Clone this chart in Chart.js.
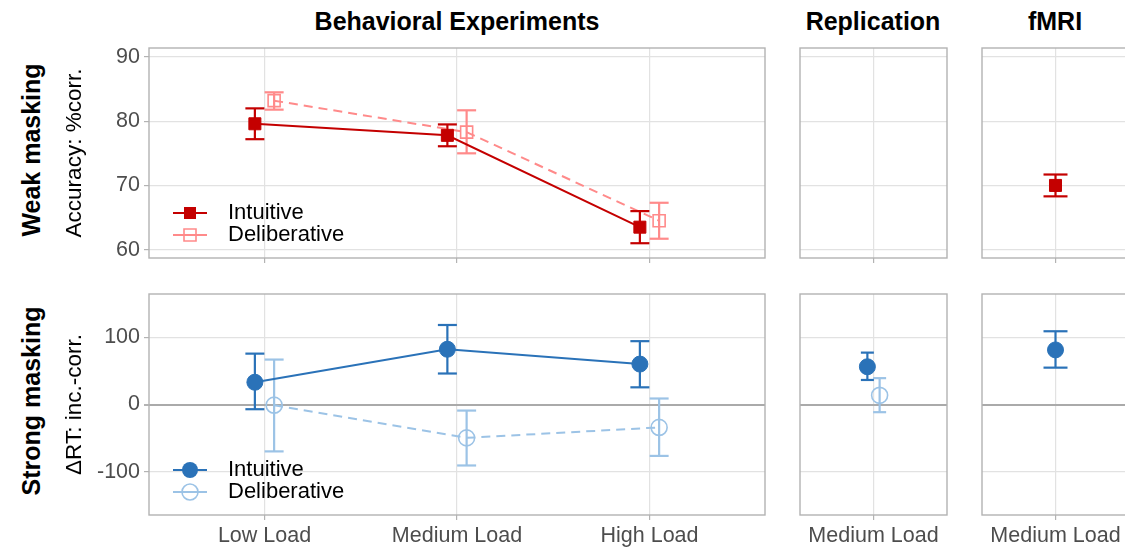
<!DOCTYPE html>
<html>
<head>
<meta charset="utf-8">
<script src="https://cdn.jsdelivr.net/npm/chart.js@4.4.1/dist/chart.umd.min.js"></script>
<style>
  html, body { margin: 0; padding: 0; background: #fff; overflow: hidden; }
  body { width: 1125px; height: 550px; position: relative; font-family: "Liberation Sans", Arial, Helvetica, sans-serif; }
  canvas { position: absolute; }
  .col-title { position: absolute; top: 7px; font-weight: bold; font-size: 25px; transform: translateX(-50%); white-space: nowrap; color: #000; }
  .row-title { position: absolute; font-weight: bold; font-size: 25px; transform: translate(-50%, -50%) rotate(-90deg); white-space: nowrap; color: #000; }
</style>
</head>
<body>
<div class="col-title" style="left:457px">Behavioral Experiments</div>
<div class="col-title" style="left:873px">Replication</div>
<div class="col-title" style="left:1055px">fMRI</div>
<div class="row-title" style="left:31px;top:150px">Weak masking</div>
<div class="row-title" style="left:31px;top:401px">Strong masking</div>

<canvas id="weak-beh" width="770" height="240" style="left:0;top:40px"></canvas>
<canvas id="weak-rep" width="157" height="240" style="left:795px;top:40px"></canvas>
<canvas id="weak-fmri" width="157" height="240" style="left:977px;top:40px"></canvas>
<canvas id="strong-beh" width="770" height="264" style="left:0;top:286px"></canvas>
<canvas id="strong-rep" width="157" height="264" style="left:795px;top:286px"></canvas>
<canvas id="strong-fmri" width="157" height="264" style="left:977px;top:286px"></canvas>

<script>
// ---- categories / ticks ----
const loadLabels = ['Low Load', 'Medium Load', 'High Load'];
const singleLabels = ['Medium Load'];
const accTicks = [60, 70, 80, 90];
const rtTicks = [-100, 0, 100];
const accRange = [58.7, 91.4];
const rtRange = [-164, 164];

// ---- weak masking: accuracy, % correct (mean, lower, upper) ----
const weakIntMean = [79.6, 77.8, 63.5];
const weakIntLow  = [77.2, 76.1, 61.0];
const weakIntHigh = [82.0, 79.5, 66.0];
const weakDelMean = [83.2, 78.3, 64.5];
const weakDelLow  = [81.8, 75.0, 61.7];
const weakDelHigh = [84.5, 81.7, 67.3];
const fmriWeakIntMean = [70.0];
const fmriWeakIntLow  = [68.3];
const fmriWeakIntHigh = [71.7];

// ---- strong masking: dRT incongruent - congruent (mean, lower, upper) ----
const strongIntMean = [33, 82, 60];
const strongIntLow  = [-7, 46, 25.5];
const strongIntHigh = [75.5, 118, 94];
const strongDelMean = [-1, -49.5, -34];
const strongDelLow  = [-69.6, -90.5, -76.3];
const strongDelHigh = [66.7, -9, 8.9];
const repStrongIntMean = [56];
const repStrongIntLow  = [36.4];
const repStrongIntHigh = [77];
const repStrongDelMean = [13.6];
const repStrongDelLow  = [-11.4];
const repStrongDelHigh = [39.1];
const fmriStrongIntMean = [81];
const fmriStrongIntLow  = [54.7];
const fmriStrongIntHigh = [108.7];

// ---- look ----
const RED = '#c40000', PINK = '#ff8a8a', BLUE = '#2a72b8', LIGHTBLUE = '#9cc3e6';
const GRID = '#e2e2e2', FRAME = '#b3b3b3', ZERO = '#aaaaaa', TEXT = '#4d4d4d';
const DODGE = 0.05;

Chart.defaults.font.family = '"Liberation Sans", Arial, Helvetica, sans-serif';
Chart.defaults.color = TEXT;

function keyIcon(color, shape, filled) {
  const c = document.createElement('canvas');
  c.width = 68; c.height = 22;
  const g = c.getContext('2d');
  g.strokeStyle = color; g.fillStyle = color; g.lineWidth = 2;
  g.beginPath(); g.moveTo(24, 11); g.lineTo(58, 11); g.stroke();
  g.lineWidth = 1.6;
  g.beginPath();
  if (shape === 'rect') g.rect(35, 5, 12, 12); else g.arc(41, 11, 8, 0, Math.PI * 2);
  filled ? g.fill() : g.stroke();
  return c;
}

function series(label, color, mean, shift, shape, filled, dashed, order) {
  const r = shape === 'rect' ? 8.5 : 8;
  return {
    label, key: keyIcon(color, shape, filled), order,
    data: mean.map((y, i) => ({x: i + 1 + shift, y})),
    borderColor: color, borderWidth: 2, borderDash: dashed ? [9, 6] : [],
    pointStyle: shape, pointRadius: r, pointHoverRadius: r,
    pointBorderColor: color, pointBorderWidth: filled ? 1 : 1.6,
    pointBackgroundColor: filled ? color : 'rgba(0,0,0,0)'
  };
}

// vertical whisker + caps, one gap between each bar
function whisker(color, lo, hi, shift, cap, order) {
  const data = [];
  lo.forEach((l, i) => {
    const x = i + 1 + shift;
    data.push({x, y: l}, {x, y: hi[i]}, {x, y: null});
  });
  return {
    label: '_err', order, data, spanGaps: false,
    borderColor: color, borderWidth: 2.2,
    pointStyle: 'line', pointRadius: cap, pointHoverRadius: cap,
    pointBorderColor: color, pointBorderWidth: 2.2
  };
}

const panelBox = {
  id: 'panelBox',
  afterDraw(chart) {
    const {ctx, chartArea: a} = chart;
    ctx.save();
    ctx.strokeStyle = FRAME; ctx.lineWidth = 1.4;
    ctx.strokeRect(a.left, a.top, a.right - a.left, a.bottom - a.top);
    ctx.restore();
  }
};

// park the legend in the lower left of the panel
const legendSpot = {
  id: 'legendSpot',
  afterLayout(chart) {
    if (!chart.options.plugins.legend.display) return;
    const a = chart.chartArea, lg = chart.legend;
    lg.left = a.left; lg.right = a.right;
    lg.top = a.bottom - 56; lg.bottom = a.bottom;
  }
};

function makePanel(id, o) {
  const labels = o.labels;
  return new Chart(document.getElementById(id), {
    type: 'line',
    data: {datasets: o.datasets},
    options: {
      responsive: false, animation: false, events: [],
      layout: {autoPadding: false, padding: {top: 8, right: 5, bottom: 0, left: o.yTitle ? 0 : 5}},
      plugins: {
        tooltip: {enabled: false},
        legend: o.legend ? {
          display: true, position: 'chartArea', align: 'start',
          labels: {
            usePointStyle: true, pointStyleWidth: 68, padding: 0,
            color: '#000', font: {size: 22},
            generateLabels(chart) {
              const items = Chart.defaults.plugins.legend.labels.generateLabels(chart);
              items.forEach(it => { const ds = chart.data.datasets[it.datasetIndex]; if (ds.key) it.pointStyle = ds.key; });
              return items;
            },
            filter: (item, data) => !!data.datasets[item.datasetIndex].key
          }
        } : {display: false}
      },
      scales: {
        x: {
          type: 'linear', min: 0.4, max: labels.length + 0.6,
          afterBuildTicks: s => { s.ticks = labels.map((_, i) => ({value: i + 1})); },
          afterFit: s => { s.height = o.xHeight; s.paddingLeft = 0; s.paddingRight = 0; },
          ticks: {display: o.xLabels, callback: (v, i) => labels[i], font: {size: 21.5}, color: TEXT, padding: 3, maxRotation: 0, autoSkip: false},
          grid: {color: GRID, lineWidth: 1.2, tickColor: FRAME, tickLength: 5, drawTicks: true},
          border: {display: false}
        },
        y: {
          min: o.yRange[0], max: o.yRange[1],
          afterBuildTicks: s => { s.ticks = o.yTicks.map(v => ({value: v})); },
          afterFit: s => { s.width = o.yTitle ? 149 : 0; s.paddingTop = 0; s.paddingBottom = 0; },
          ticks: {display: !!o.yTitle, font: {size: 21.5}, color: TEXT, padding: 4},
          grid: {
            color: c => (o.zero && c.tick && c.tick.value === 0) ? ZERO : GRID,
            lineWidth: c => (o.zero && c.tick && c.tick.value === 0) ? 2 : 1.2,
            tickColor: FRAME, tickLength: 5, drawTicks: !!o.yTitle
          },
          border: {display: false},
          title: o.yTitle ? {display: true, text: o.yTitle, color: '#000', font: {size: 22.5}, padding: {top: 61, bottom: 0}} : {display: false}
        }
      }
    },
    plugins: [panelBox, legendSpot]
  });
}

// ---- top row: weak masking ----
makePanel('weak-beh', {
  labels: loadLabels, yRange: accRange, yTicks: accTicks, yTitle: 'Accuracy: %corr.',
  xHeight: 22, xLabels: false, legend: true,
  datasets: [
    series('Intuitive', RED, weakIntMean, -DODGE, 'rect', true, false, 0),
    whisker(RED, weakIntLow, weakIntHigh, -DODGE, 9.5, 1),
    series('Deliberative', PINK, weakDelMean, DODGE, 'rect', false, true, 2),
    whisker(PINK, weakDelLow, weakDelHigh, DODGE, 9.5, 3)
  ]
});
makePanel('weak-rep', {
  labels: singleLabels, yRange: accRange, yTicks: accTicks,
  xHeight: 22, xLabels: false, datasets: []
});
makePanel('weak-fmri', {
  labels: singleLabels, yRange: accRange, yTicks: accTicks,
  xHeight: 22, xLabels: false,
  datasets: [
    series('Intuitive', RED, fmriWeakIntMean, 0, 'rect', true, false, 0),
    whisker(RED, fmriWeakIntLow, fmriWeakIntHigh, 0, 12, 1)
  ]
});

// ---- bottom row: strong masking ----
makePanel('strong-beh', {
  labels: loadLabels, yRange: rtRange, yTicks: rtTicks, yTitle: '\u0394RT: inc.-corr.',
  xHeight: 35, xLabels: true, legend: true, zero: true,
  datasets: [
    series('Intuitive', BLUE, strongIntMean, -DODGE, 'circle', true, false, 0),
    whisker(BLUE, strongIntLow, strongIntHigh, -DODGE, 9.5, 1),
    series('Deliberative', LIGHTBLUE, strongDelMean, DODGE, 'circle', false, true, 2),
    whisker(LIGHTBLUE, strongDelLow, strongDelHigh, DODGE, 9.5, 3)
  ]
});
makePanel('strong-rep', {
  labels: singleLabels, yRange: rtRange, yTicks: rtTicks,
  xHeight: 35, xLabels: true, zero: true,
  datasets: [
    series('Intuitive', BLUE, repStrongIntMean, -DODGE, 'circle', true, false, 0),
    whisker(BLUE, repStrongIntLow, repStrongIntHigh, -DODGE, 6.5, 1),
    series('Deliberative', LIGHTBLUE, repStrongDelMean, DODGE, 'circle', false, true, 2),
    whisker(LIGHTBLUE, repStrongDelLow, repStrongDelHigh, DODGE, 6.5, 3)
  ]
});
makePanel('strong-fmri', {
  labels: singleLabels, yRange: rtRange, yTicks: rtTicks,
  xHeight: 35, xLabels: true, zero: true,
  datasets: [
    series('Intuitive', BLUE, fmriStrongIntMean, 0, 'circle', true, false, 0),
    whisker(BLUE, fmriStrongIntLow, fmriStrongIntHigh, 0, 12, 1)
  ]
});
</script>
</body>
</html>
